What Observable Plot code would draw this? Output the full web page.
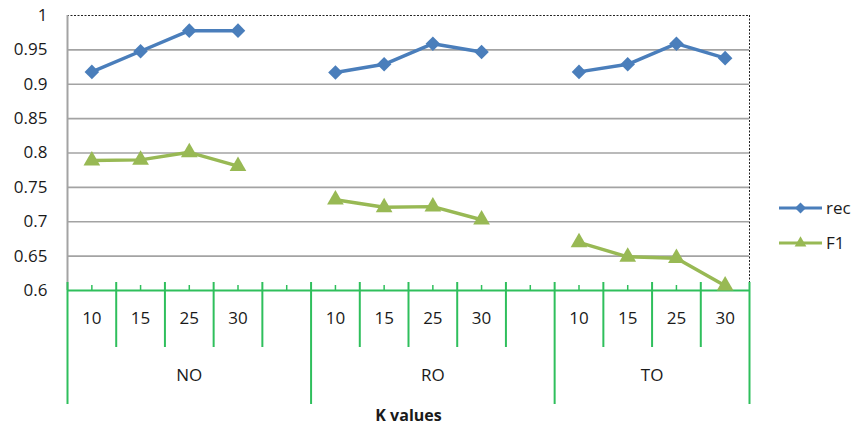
<!DOCTYPE html>
<html>
<head>
<meta charset="utf-8">
<script src="https://cdn.jsdelivr.net/npm/d3@7"></script>
<script src="https://cdn.jsdelivr.net/npm/@observablehq/plot@0.6"></script>
<style>
  body { margin: 0; background: #fff; }
  #chart { position: relative; width: 851px; height: 430px; overflow: hidden; font-family: "Open Sans", sans-serif; color: #1a1a1a; }
  #legend { position: absolute; left: 775px; top: 195px; overflow: visible; }
</style>
</head>
<body>
<div id="chart"></div>
<script>
// Oversampling methods and the K values tried for each
const groups = ["NO", "RO", "TO"];
const kValues = ["10", "15", "25", "30"];

// Scores, listed group by group in K order
const recall = [0.918, 0.948, 0.978, 0.978, 0.917, 0.929, 0.959, 0.947, 0.918, 0.929, 0.959, 0.938];
const f1 = [0.789, 0.790, 0.801, 0.781, 0.732, 0.721, 0.722, 0.703, 0.670, 0.649, 0.647, 0.607];

const yTicks = [0.6, 0.65, 0.7, 0.75, 0.8, 0.85, 0.9, 0.95, 1];
const seriesNames = ["recall", "F1"];
const seriesColors = ["#4a7ebb", "#98b954"];
const axisGreen = "#2fbf5c";
const fontFamily = "'Open Sans', sans-serif";
const fontSize = 17;

// Each group takes one slot per K value plus a spacer slot (none after the last group)
const slotsPerGroup = kValues.length + 1;
const slotCount = groups.length * slotsPerGroup - 1;

const rows = groups.flatMap((g, gi) => kValues.map((k, ki) => ({
  group: g,
  k,
  slot: gi * slotsPerGroup + ki + 0.5,
  recall: recall[gi * kValues.length + ki],
  f1: f1[gi * kValues.length + ki]
})));

const edges = d3.range(slotCount + 1);
const groupEdges = groups.map((g, gi) => gi * slotsPerGroup).concat(slotCount);
const innerEdges = edges.filter(e => !groupEdges.includes(e));
const centers = d3.range(slotCount).map(i => i + 0.5);
const groupCenters = groups.map((g, gi) => ({
  group: g,
  x: (gi * slotsPerGroup + Math.min((gi + 1) * slotsPerGroup, slotCount)) / 2
}));

// Square diamond marker (rotated square)
const squareDiamond = {
  draw(ctx, size) {
    const a = Math.sqrt(size / 2);
    ctx.moveTo(0, -a); ctx.lineTo(a, 0); ctx.lineTo(0, a); ctx.lineTo(-a, 0); ctx.closePath();
  }
};

const chart = Plot.plot({
  width: 851,
  height: 430,
  marginLeft: 67,
  marginRight: 102,
  marginTop: 15,
  marginBottom: 140,
  style: { fontFamily, fontSize: `${fontSize}px`, color: "#1a1a1a", overflow: "visible", background: "#fff" },
  x: { domain: [0, slotCount], axis: null },
  y: { domain: [0.6, 1] },
  marks: [
    Plot.ruleY(yTicks.filter(v => v > 0.6 && v < 1), { stroke: "#a3a3a3", strokeWidth: 1.6 }),
    Plot.ruleY([1], { stroke: "#222", strokeWidth: 1, strokeDasharray: "2,1.5" }),
    Plot.ruleX([slotCount], { stroke: "#222", strokeWidth: 1, strokeDasharray: "2,1.5" }),
    Plot.ruleX([0], { stroke: "#a3a3a3", strokeWidth: 2 }),
    Plot.axisY(yTicks, { tickSize: 0, tickPadding: 20, tickFormat: d => String(+d.toFixed(2)), fontSize, label: null }),
    Plot.ruleY([0.6], { stroke: axisGreen, strokeWidth: 2 }),
    Plot.ruleX(centers, { stroke: axisGreen, strokeWidth: 1.5, insetTop: 270 }),
    Plot.ruleX(innerEdges, { stroke: axisGreen, strokeWidth: 2, insetTop: 267, insetBottom: -57 }),
    Plot.ruleX(groupEdges, { stroke: axisGreen, strokeWidth: 2, insetTop: 267, insetBottom: -114 }),
    Plot.text(rows, { x: "slot", text: "k", frameAnchor: "bottom", dy: 33, fontSize }),
    Plot.text(groupCenters, { x: "x", text: "group", frameAnchor: "bottom", dy: 90, fontSize }),
    Plot.text(["K values"], { text: d => d, frameAnchor: "bottom", dy: 130, fontSize: 16, fontWeight: "bold" }),
    Plot.line(rows, { x: "slot", y: "recall", z: "group", stroke: seriesColors[0], strokeWidth: 3.5 }),
    Plot.dot(rows, { x: "slot", y: "recall", symbol: squareDiamond, r: 5.8, fill: seriesColors[0] }),
    Plot.line(rows, { x: "slot", y: "f1", z: "group", stroke: seriesColors[1], strokeWidth: 3.5 }),
    Plot.dot(rows, { x: "slot", y: "f1", symbol: "triangle", r: 6.2, fill: seriesColors[1] })
  ]
});

const root = document.getElementById("chart");
root.appendChild(chart);

// Legend to the right of the plot area
const legend = d3.select(root).append("svg")
  .attr("id", "legend")
  .attr("width", 90)
  .attr("height", 70);
const legendSymbols = [squareDiamond, d3.symbolTriangle];
const legendSizes = [60, 60];
seriesNames.forEach((name, i) => {
  const y = 13 + i * 35;
  const g = legend.append("g").attr("transform", `translate(0,${y})`);
  g.append("line").attr("x1", 4).attr("x2", 47).attr("stroke", seriesColors[i]).attr("stroke-width", 3);
  g.append("path").attr("transform", "translate(25.5,0)")
    .attr("d", d3.symbol(legendSymbols[i], legendSizes[i])())
    .attr("fill", seriesColors[i]);
  g.append("text").attr("x", 51).attr("dy", "0.35em")
    .attr("font-family", fontFamily)
    .attr("font-size", fontSize).attr("fill", "#1a1a1a")
    .text(name);
});
</script>
</body>
</html>
